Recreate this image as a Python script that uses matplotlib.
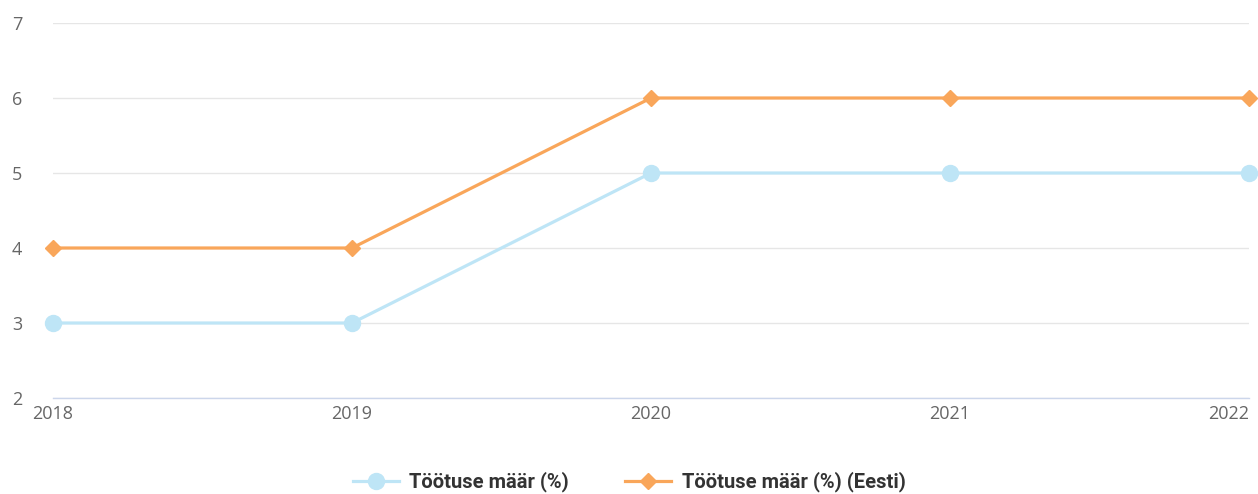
import matplotlib.pyplot as plt
from matplotlib.lines import Line2D

plt.rcParams['font.family'] = ['Open Sans', 'DejaVu Sans']

years = [2018, 2019, 2020, 2021, 2022]
rate = [3, 3, 5, 5, 5]
rate_ee = [4, 4, 6, 6, 6]
yticks = [2, 3, 4, 5, 6, 7]

blue = '#bee5f6'
orange = '#f9a65a'

fig = plt.figure(figsize=(12.58, 4.94), dpi=100)
ax = fig.add_axes([53/1258, 1-398/494, 1196/1258, 375/494])

ax.plot(years, rate, color=blue, lw=2.3, marker='o', ms=11.5, zorder=3, clip_on=False)
ax.plot(years, rate_ee, color=orange, lw=2.3, marker='D', ms=8, zorder=4, clip_on=False)

ax.set_xlim(2018, 2022)
ax.set_ylim(2, 7)
ax.set_xticks(years)
ax.set_yticks(yticks)
ax.yaxis.grid(True, color='#e6e6e6', lw=1)
ax.set_axisbelow(True)
for s in ['top', 'right', 'left']:
    ax.spines[s].set_visible(False)
ax.spines['bottom'].set_color('#ccd6eb')
ax.spines['bottom'].set_linewidth(1)
ax.tick_params(axis='both', length=0, labelsize=13, labelcolor='#666666')
ax.tick_params(axis='y', pad=22)
ax.tick_params(axis='x', pad=5)
xl = ax.get_xticklabels()
xl[-1].set_horizontalalignment('right')
xl[-1].set_x(2022.003)

handles = [
    Line2D([], [], color=blue, lw=2.3, marker='o', ms=11.5),
    Line2D([], [], color=orange, lw=2.3, marker='D', ms=8),
]
leg = fig.legend(handles, ['Töötuse määr (%)', 'Töötuse määr (%) (Eesti)'],
                 loc='center', bbox_to_anchor=(0.5, 1-482/494), ncol=2, frameon=False,
                 prop={'family': 'Roboto', 'size': 14.5, 'weight': 'bold'},
                 handlelength=2.3, columnspacing=2.8, handletextpad=0.5)
for t in leg.get_texts():
    t.set_color('#333333')

fig.savefig('out.png', dpi=100)
